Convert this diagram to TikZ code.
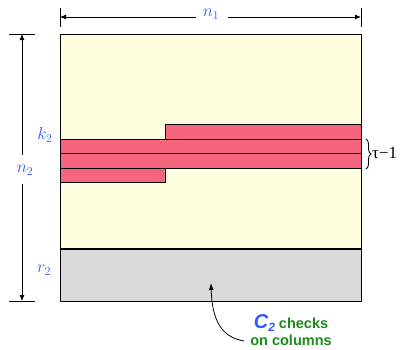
\documentclass[tikz,border=0pt]{standalone}
\usepackage{amsmath}
\usepackage{fontspec}
\setsansfont{Liberation Sans}
\newfontfamily\grkserif{Liberation Serif}
\usetikzlibrary{arrows.meta,decorations.pathreplacing}
\definecolor{pale}{HTML}{FFFFDF}
\definecolor{stripe}{HTML}{F5667E}
\definecolor{graybox}{HTML}{D9D9D9}
\definecolor{lblue}{HTML}{2E5BFF}
\definecolor{lgreen}{HTML}{1A8C1A}
\tikzset{
  dimline/.style={line width=0.8pt,-{Latex[length=6pt,width=5pt]}},
  tick/.style={line width=0.8pt},
  redbar/.style={fill=stripe,draw=black,line width=0.8pt},
  lab/.style={text=lblue,font=\fontsize{17}{19}\selectfont,inner sep=1pt},
}
\begin{document}
\begin{tikzpicture}[x=1pt,y=-1pt]
\useasboundingbox (0,0) rectangle (409,349);
% main blocks
\fill[pale] (60,34) rectangle (361,249);
\fill[graybox] (60,249) rectangle (361,301);
% red stripes
\draw[redbar] (165,124) rectangle (361,139);
\draw[redbar] (60,139) rectangle (361,153);
\draw[redbar] (60,153) rectangle (361,168);
\draw[redbar] (60,168) rectangle (165,182);
% outlines
\draw[line width=0.8pt] (60,34) rectangle (361,301);
\draw[line width=1.6pt] (60,249) -- (361,249);
% top dimension
\coordinate (tl) at (60,17);
\coordinate (tr) at (361,17);
\draw[tick] (60,8) -- (60,27);
\draw[tick] (361,8) -- (361,27);
\node[lab] (n1) at (211,14) {$n_{\mathrm{1}}$};
\draw[dimline] (196,17) -- (tl);
\draw[dimline] (228,17) -- (tr);
% left dimension
\coordinate (lt) at (22,34);
\coordinate (lb) at (22,301);
\draw[tick] (9,34) -- (35,34);
\draw[tick] (9,301) -- (35,301);
\node[lab] (n2) at (25,170) {$n_2$};
\draw[dimline] (22,155) -- (lt);
\draw[dimline] (22,184) -- (lb);
% labels
\node[lab] (k2) at (45,135) {$k_2$};
\node[lab] (r2) at (44,270) {$r_2$};
% brace
\draw[decorate,decoration={brace,amplitude=5pt},line width=0.9pt] (366,139) -- (366,169);
\node[font=\grkserif\fontsize{17}{19}\selectfont,inner sep=0pt,anchor=west] (tau) at (372,153) {τ−1};
% annotation
\node[align=center,font=\sffamily\bfseries\fontsize{14.5}{17}\selectfont,text=lgreen,inner sep=1pt] (note) at (291,330)
  {\textcolor{lblue}{\fontsize{20}{20}\selectfont\itshape C\raisebox{-0.25ex}{\fontsize{12}{12}\selectfont 2}} checks\\on columns};
\coordinate (tip) at (211,283);
\draw[line width=0.8pt,-{Latex[length=7pt,width=5pt]}] (244,341) .. controls (220,337) and (212,318) .. (tip);
\end{tikzpicture}
\end{document}
